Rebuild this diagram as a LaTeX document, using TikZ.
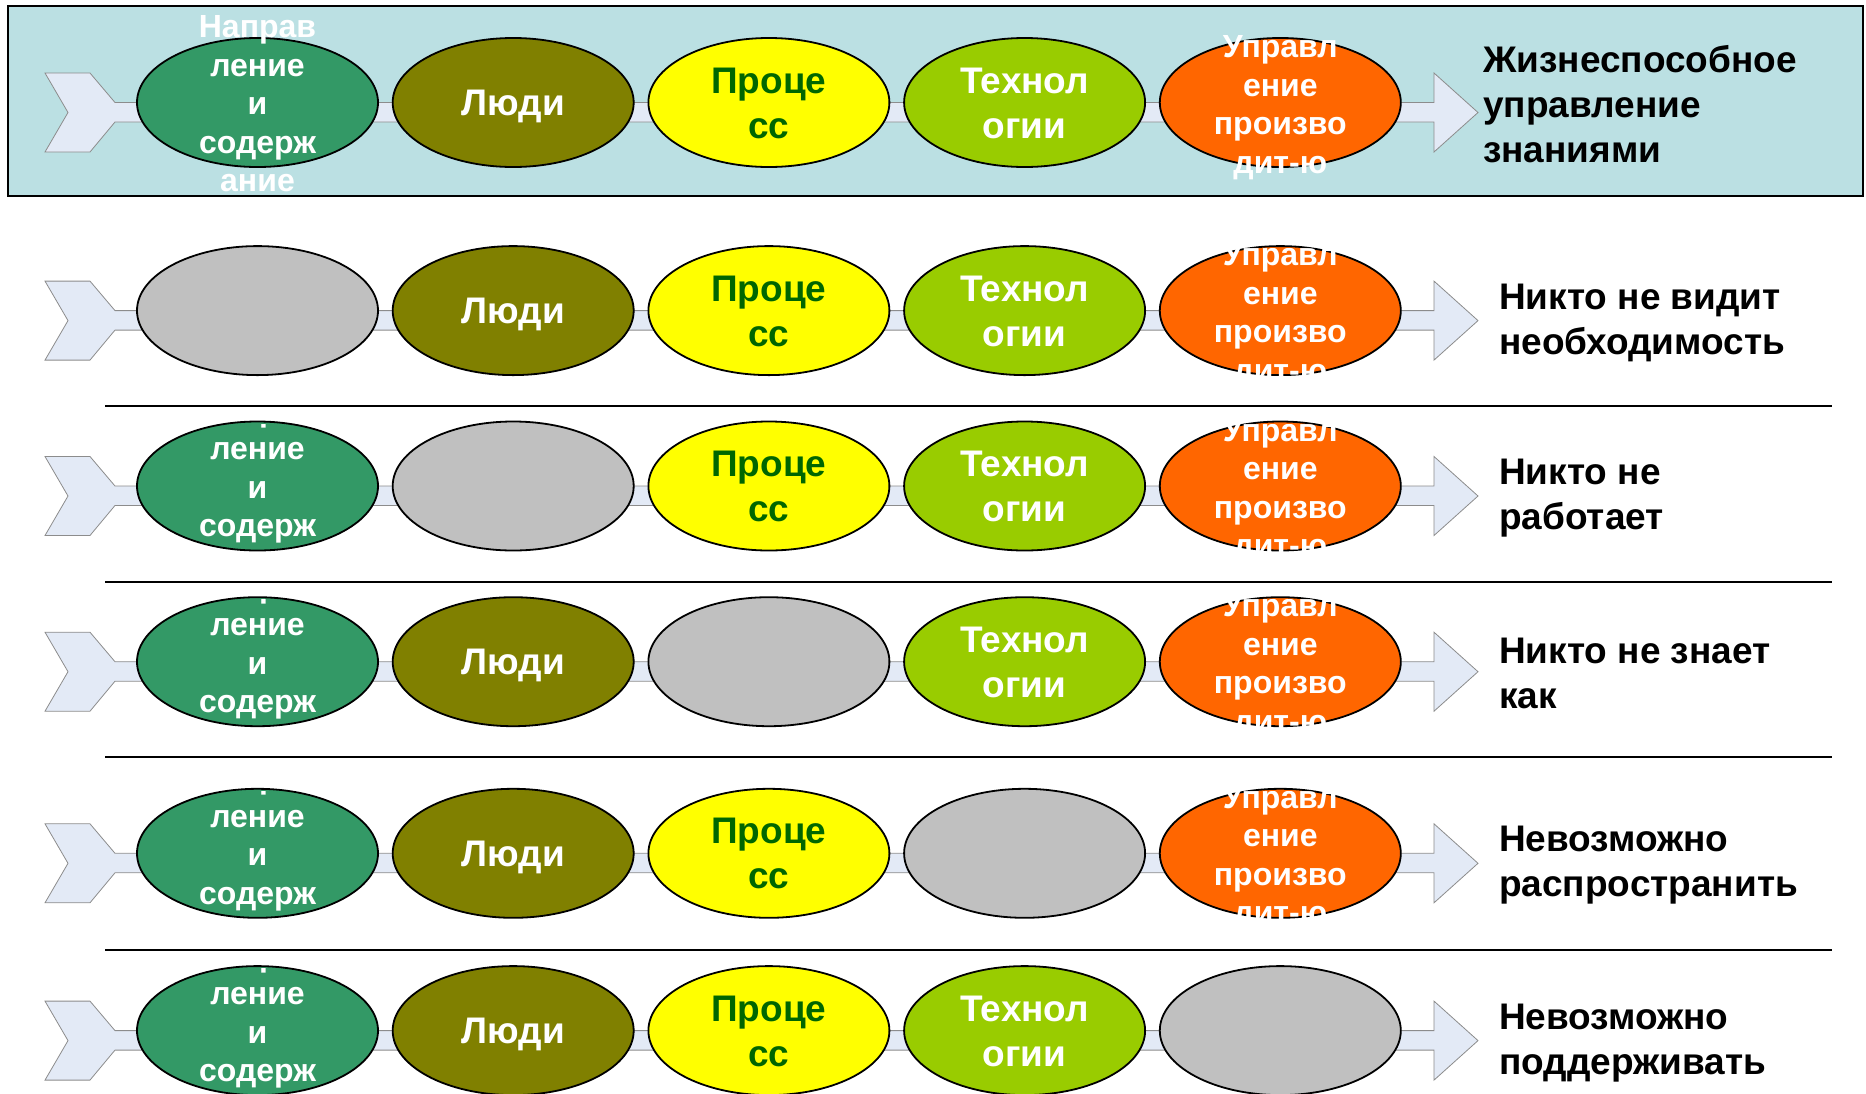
\documentclass[tikz,border=0pt]{standalone}
\usepackage{fontspec}
\setmainfont{Liberation Sans}
\usepackage{xcolor}
\usepackage{tikz}
\usetikzlibrary{positioning,shapes.geometric}

\definecolor{topbg}{RGB}{187,224,227}
\definecolor{arrowfill}{RGB}{227,234,246}
\definecolor{arrowline}{RGB}{140,140,140}
\definecolor{stgA}{RGB}{51,153,102}
\definecolor{stgB}{RGB}{128,128,0}
\definecolor{stgC}{RGB}{255,255,0}
\definecolor{stgD}{RGB}{153,204,0}
\definecolor{stgE}{RGB}{255,102,0}
\definecolor{stgoff}{RGB}{192,192,192}
\definecolor{proctxt}{RGB}{0,102,0}

\begin{document}
\begin{tikzpicture}[x=1pt, y=-1pt,
      stage/.style={draw, ellipse, line width=1.8pt, minimum width=241pt, minimum height=129pt, inner sep=0pt},
      bigtxt/.style={font=\fontsize{37}{45}\selectfont\bfseries, align=center, inner sep=0pt},
      smalltxt/.style={font=\fontsize{32}{38.5}\selectfont\bfseries, align=center, inner sep=0pt},
      result/.style={anchor=west, align=left, inner sep=0pt, font=\fontsize{37}{45}\selectfont\bfseries},
      band/.style={fill=arrowfill, draw=arrowline, line width=0.8pt},
      sep/.style={line width=2.2pt},
    ]
    \useasboundingbox (0,0) rectangle (1866,1093);
    \draw[line width=2.5pt, fill=topbg] (8,6) rectangle (1863,196);
    % one row per case, the switched-off stage is grey
    \foreach \cy/\off/\lx/\ly/\clp/\lbl [count=\r] in {
        102.5/0/1483/2/100/{Жизнеспособное\\управление\\знаниями},
        310.6/1/1499/12/0/{Никто не видит\\необходимость},
        486/2/1499/12/0/{Никто не\\работает},
        661.7/3/1499/12/0/{Никто не знает\\как},
        853.3/4/1499/12/0/{Невозможно\\распространить},
        1030.6/5/1499/12/0/{Невозможно\\поддерживать}}{
      \draw[band] (45,\cy-29.5) -- (90,\cy-29.5) -- (115,\cy) -- (1434,\cy)
        -- (1434,\cy-29.5) -- (1478,\cy+10) -- (1434,\cy+49.5) -- (1434,\cy+19.5)
        -- (115,\cy+19.5) -- (90,\cy+49.5) -- (45,\cy+49.5) -- (68,\cy+10) -- cycle;
      \foreach \i/\fc/\tc/\sty/\dy/\txt in {
          1/stgA/white/smalltxt/1.6/{Направ\\ление\\и\\содерж\\ание},
          2/stgB/white/bigtxt/4/{Люди},
          3/stgC/proctxt/bigtxt/0.5/{Проце\\сс},
          4/stgD/white/bigtxt/0.5/{Технол\\огии},
          5/stgE/white/smalltxt/5/{Управл\\ение\\произво\\дит-ю}}{
        \ifnum\i=\off
          \node[stage, fill=stgoff] (st\r-\i) at ({257.5+255.7*(\i-1)},\cy) {};
        \else
          \node[stage, fill=\fc] (st\r-\i) at ({257.5+255.7*(\i-1)},\cy) {};
          \begin{scope}
            \clip (0,\cy-62-\clp) rectangle (1866,\cy+66+\clp);
            \node[\sty, text=\tc] (tx\r-\i) at ([yshift=-\dy pt]st\r-\i.center) {\txt};
          \end{scope}
        \fi
      }
      \node[result] (res\r) at (\lx,\cy+\ly) {\lbl};
    }
    \draw[sep] (105,405.8) -- (1832,405.8);
    \draw[sep] (105,582) -- (1832,582);
    \draw[sep] (105,757) -- (1832,757);
    \draw[sep] (105,949.7) -- (1832,949.7);
  \end{tikzpicture}
\end{document}
